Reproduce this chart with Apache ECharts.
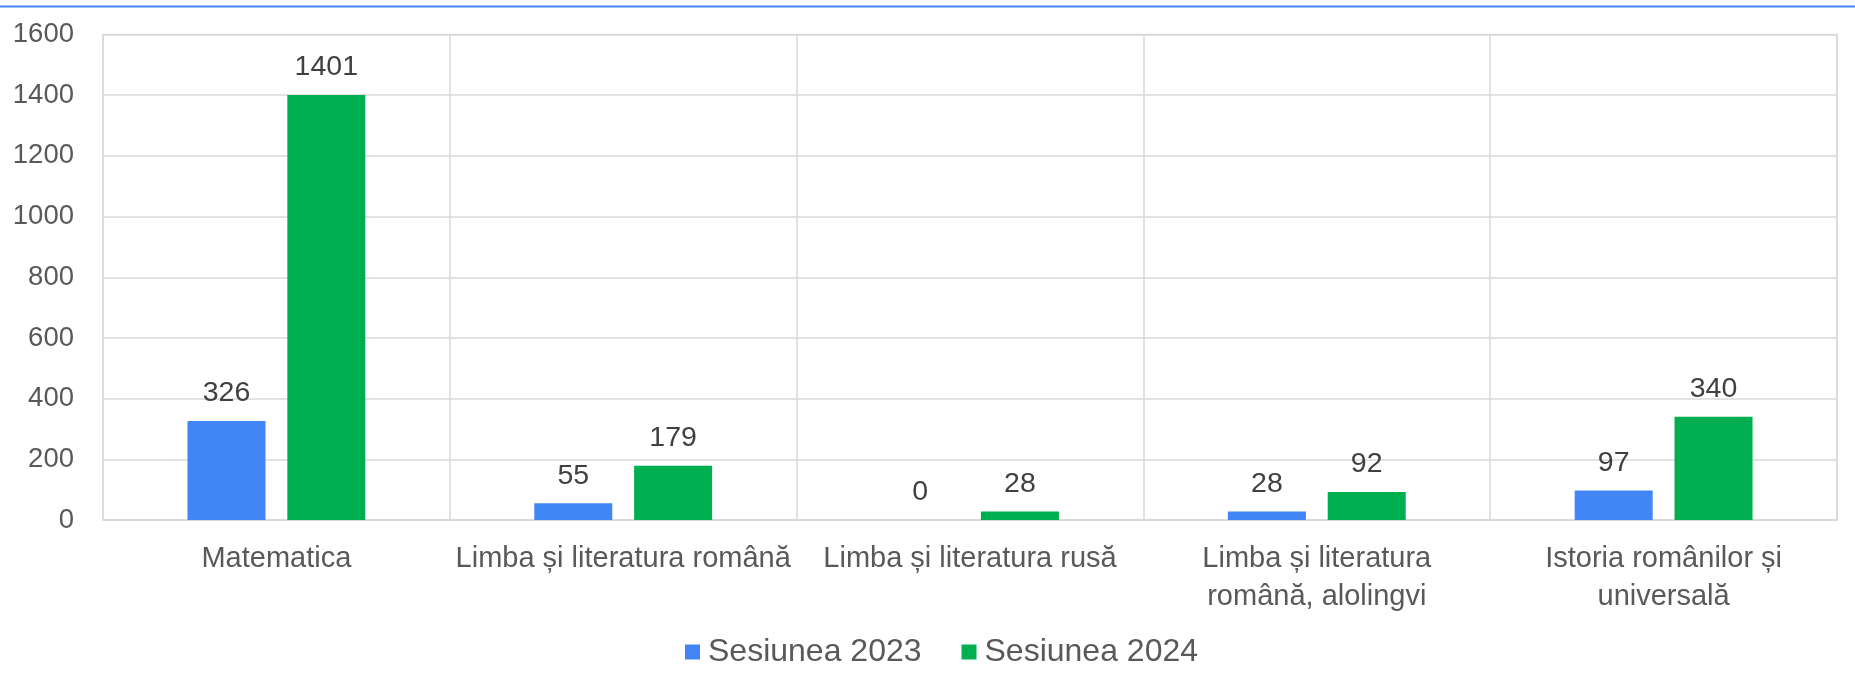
<!DOCTYPE html>
<html>
<head>
<meta charset="utf-8">
<script src="https://cdn.jsdelivr.net/npm/echarts@6/dist/echarts.min.js"></script>
<style>
html,body{margin:0;padding:0;background:#fff;}
#chart{width:1855px;height:692px;}
</style>
</head>
<body>
<div id="chart"></div>
<script>
const categories = [
  'Matematica',
  'Limba și literatura română',
  'Limba și literatura rusă',
  'Limba și literatura\nromână, alolingvi',
  'Istoria românilor și\nuniversală'
];
const seriesNames = ['Sesiunea 2023', 'Sesiunea 2024'];
const values2023 = [326, 55, 0, 28, 97];
const values2024 = [1401, 179, 28, 92, 340];
const yTicks = { min: 0, max: 1600, interval: 200 };

const FONT = 'Liberation Sans, Arial, sans-serif';
const FS = 29;
const GRID = '#d9d9d9';
const chart = echarts.init(document.getElementById('chart'), null, { renderer: 'canvas' });

function barSeries(name, data, color) {
  return {
    name: name,
    type: 'bar',
    data: data,
    barWidth: 78,
    barGap: '28%',
    itemStyle: { color: color },
    label: {
      show: true,
      position: 'top',
      distance: 13,
      color: '#404040',
      fontSize: 28.5,
      fontFamily: FONT
    }
  };
}

chart.setOption({
  animation: false,
  textStyle: { fontFamily: FONT },
  graphic: [{
    type: 'rect',
    shape: { x: 0, y: 5.5, width: 1855, height: 2 },
    style: { fill: '#4285F4' }
  }],
  grid: {
    left: 103, right: 18, top: 34.5, bottom: 172,
    show: true, borderColor: GRID, borderWidth: 1.5
  },
  legend: {
    bottom: 19,
    left: 680,
    itemWidth: 15,
    itemHeight: 15,
    itemGap: 40,
    icon: 'rect',
    textStyle: { fontSize: 32, color: '#595959', fontFamily: FONT, padding: [0, 0, 0, 3] },
    data: seriesNames
  },
  xAxis: {
    type: 'category',
    data: categories,
    axisLine: { show: true, lineStyle: { color: GRID, width: 1.5 } },
    axisTick: { show: false },
    splitLine: { show: true, lineStyle: { color: GRID, width: 1.5 } },
    axisLabel: {
      interval: 0,
      margin: 20,
      fontSize: FS,
      lineHeight: 38,
      color: '#595959',
      fontFamily: FONT
    }
  },
  yAxis: {
    type: 'value',
    min: yTicks.min,
    max: yTicks.max,
    interval: yTicks.interval,
    axisLine: { show: false },
    axisTick: { show: false },
    splitLine: { show: true, lineStyle: { color: GRID, width: 1.5 } },
    axisLabel: {
      margin: 29,
      fontSize: 27.5,
      color: '#595959',
      fontFamily: FONT,
      padding: [4, 0, 0, 0],
      formatter: function (v) { return String(v); }
    }
  },
  series: [
    barSeries(seriesNames[0], values2023, '#4285F4'),
    barSeries(seriesNames[1], values2024, '#00AF50')
  ]
});
</script>
</body>
</html>
